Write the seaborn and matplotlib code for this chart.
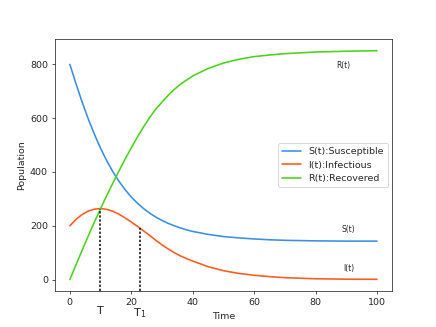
import matplotlib
matplotlib.use("Agg")
import matplotlib.pyplot as plt
import seaborn as sns
import pandas as pd

# values
time = [0, 2, 4, 6, 8, 10, 12, 14, 16, 18, 20, 22, 24, 26, 28, 30,
        32, 34, 36, 38, 40, 45, 50, 55, 60, 65, 70, 80, 90, 100]
susceptible = [800, 728, 660, 597, 540, 488, 442, 401, 365, 334, 307, 284, 264, 247, 232, 220,
               209, 200, 192, 185, 179, 168, 160, 155, 151, 148, 146, 144, 143, 143]
infectious = [200, 224, 242, 255, 262, 264, 261, 254, 243, 229, 214, 198, 181, 164, 146, 129,
              114, 100, 88, 78, 69, 48, 33, 23, 16, 11, 7, 3, 1.5, 1]
recovered = [0, 55, 109, 162, 214, 264, 312, 359, 404, 448, 490, 530, 568, 603, 634, 660,
             685, 707, 726, 742, 757, 785, 805, 819, 829, 835, 840, 846, 849, 851]

series_names = ["S(t):Susceptible", "I(t):Infectious", "R(t):Recovered"]
series_colors = ["#3a8ee6", "#ff5b1f", "#4bd21a"]

# marked times and the infectious count there
mark_times = [9.7, 22.7]
mark_values = [264, 190]
mark_labels = ["T", "T$_1$"]

df = pd.DataFrame({"Time": time, series_names[0]: susceptible,
                   series_names[1]: infectious, series_names[2]: recovered})
long_df = df.melt(id_vars="Time", var_name="group", value_name="Population")

sns.set_style("ticks")
fig, ax = plt.subplots(figsize=(436 / 68, 327 / 68), dpi=68)

sns.lineplot(data=long_df, x="Time", y="Population", hue="group",
             palette=series_colors, linewidth=1.7, ax=ax)

ymin, ymax = ax.get_ylim()
for t, v in zip(mark_times, mark_values):
    ax.plot([t, t], [ymin, v], color="black", linestyle=(0, (1.5, 1.2)), linewidth=1.6)
ax.set_ylim(ymin, ymax)

for t, lab in zip(mark_times, mark_labels):
    ax.text(t, -0.06, lab, transform=ax.get_xaxis_transform(),
            ha="center", va="top", fontsize=12, color=".15")

ax.text(89, 797, "R(t)", ha="center", va="center", fontsize=8, color=".15")
ax.text(90.5, 186, "S(t)", ha="center", va="center", fontsize=8, color=".15")
ax.text(90.7, 40, "I(t)", ha="center", va="center", fontsize=8, color=".15")

ax.set_xlabel("Time", labelpad=6)
ax.set_ylabel("Population")
ax.legend(loc="center right", title=None)

plt.savefig("out.png", dpi=68)
